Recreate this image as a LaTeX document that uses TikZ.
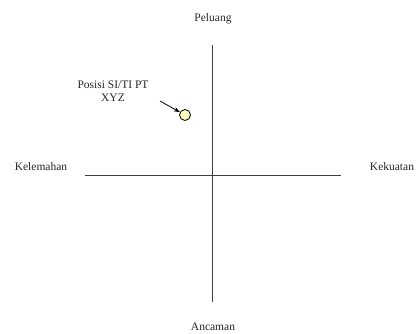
\documentclass[tikz,border=0pt]{standalone}
\usepackage{fontspec}
\setmainfont{Liberation Serif}
\usetikzlibrary{arrows.meta}
\begin{document}
\begin{tikzpicture}[x=1pt,y=1pt,
  lbl/.style={font=\fontsize{11.5}{13}\selectfont, text=black!85, inner sep=0pt, align=center},
  axis/.style={draw=black!75, line width=0.9pt}]
\useasboundingbox (0,0) rectangle (419,333);
\coordinate (L) at (85,158);
\coordinate (R) at (341,158);
\coordinate (T) at (212,288);
\coordinate (B) at (212,31);
\draw[axis] (L) -- (R);
\draw[axis] (T) -- (B);
\node[lbl] (peluang) at (213,314) {Peluang};
\node[lbl] (ancaman) at (213,6) {Ancaman};
\node[lbl] (kelemahan) at (41,166) {Kelemahan};
\node[lbl] (kekuatan) at (392,166) {Kekuatan};
\node[lbl] (pos) at (113,242) {Posisi SI/TI PT\\XYZ};
\node[circle, draw=black, fill=yellow!25, line width=0.8pt, minimum size=11pt, inner sep=0pt] (dot) at (185,218) {};
\coordinate (a0) at (160,232);
\draw[-{Stealth[length=6pt,width=4.5pt]}, line width=0.8pt] (a0) -- (dot);
\end{tikzpicture}
\end{document}
